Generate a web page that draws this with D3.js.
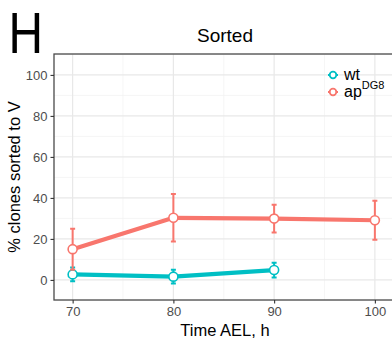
<!DOCTYPE html>
<html>
<head>
<meta charset="utf-8">
<script src="https://cdn.jsdelivr.net/npm/d3@7"></script>
<style>
  body { margin: 0; background: #fff; }
  svg { display: block; font-family: "Liberation Sans", Arial, sans-serif; }
</style>
</head>
<body>
<div id="chart"></div>
<script>
const hours = [70, 80, 90, 100];
const wtMean = [2.7, 1.6, 4.8];
const wtErr = [3.4, 3.4, 3.6];
const apMean = [15.0, 30.3, 29.9, 29.1];
const apErr = [10.0, 11.6, 6.8, 9.5];
const xTicks = [70, 80, 90, 100];
const yTicks = [0, 20, 40, 60, 80, 100];

const series = [
  { name: "wt", sup: "", color: "#00BFC4", mean: wtMean, err: wtErr },
  { name: "ap", sup: "DG8", color: "#F8766D", mean: apMean, err: apErr }
];

const width = 392, height = 340;
const margin = { top: 54, right: 0, bottom: 40, left: 54 };

const svg = d3.select("#chart").append("svg")
  .attr("width", width)
  .attr("height", height);

const x = d3.scaleLinear().domain([68.15, 101.7]).range([margin.left, width - margin.right]);
const y = d3.scaleLinear().domain([-9.8, 110.2]).range([height - margin.bottom, margin.top]);

// grid
const grid = svg.append("g");
grid.selectAll(".minx").data([75, 85, 95]).join("line")
  .attr("x1", d => x(d)).attr("x2", d => x(d))
  .attr("y1", y.range()[0]).attr("y2", y.range()[1])
  .attr("stroke", "#f2f2f2").attr("stroke-width", 0.7);
grid.selectAll(".miny").data([-10, 10, 30, 50, 70, 90, 110]).join("line")
  .attr("x1", x.range()[0]).attr("x2", x.range()[1])
  .attr("y1", d => y(d)).attr("y2", d => y(d))
  .attr("stroke", "#f2f2f2").attr("stroke-width", 0.7);
grid.selectAll(".majx").data(xTicks).join("line")
  .attr("x1", d => x(d)).attr("x2", d => x(d))
  .attr("y1", y.range()[0]).attr("y2", y.range()[1])
  .attr("stroke", "#e8e8e8").attr("stroke-width", 1.2);
grid.selectAll(".majy").data(yTicks).join("line")
  .attr("x1", x.range()[0]).attr("x2", x.range()[1])
  .attr("y1", d => y(d)).attr("y2", d => y(d))
  .attr("stroke", "#e8e8e8").attr("stroke-width", 1.2);

// panel border
svg.append("rect")
  .attr("x", x.range()[0]).attr("y", y.range()[1])
  .attr("width", x.range()[1] - x.range()[0] + 2)
  .attr("height", y.range()[0] - y.range()[1])
  .attr("fill", "none").attr("stroke", "#4a4a4a").attr("stroke-width", 1.3);

// axes
const xAxis = svg.append("g")
  .attr("transform", `translate(0,${y.range()[0]})`)
  .call(d3.axisBottom(x).tickValues(xTicks).tickSize(3.5).tickPadding(3));
const yAxis = svg.append("g")
  .attr("transform", `translate(${x.range()[0]},0)`)
  .call(d3.axisLeft(y).tickValues(yTicks).tickSize(3.5).tickPadding(3));
[xAxis, yAxis].forEach(a => {
  a.select(".domain").remove();
  a.selectAll(".tick line").attr("stroke", "#333").attr("stroke-width", 1.1);
  a.selectAll(".tick text").attr("fill", "#4d4d4d").style("font-size", "13px")
    .style("font-family", "'Liberation Sans', Arial, sans-serif");
});

// lines, error bars, points
const line = d3.line().x(d => x(d.h)).y(d => y(d.m));
series.forEach(s => {
  const pts = s.mean.map((m, i) => ({ h: hours[i], m: m, e: s.err[i] }));
  const g = svg.append("g");
  g.append("path").datum(pts)
    .attr("d", line)
    .attr("fill", "none").attr("stroke", s.color).attr("stroke-width", 4.2)
    .attr("stroke-linejoin", "round");
  g.selectAll(".eb").data(pts).join("path")
    .attr("d", d => `M${x(d.h)},${y(d.m - d.e)}V${y(d.m + d.e)}` +
      `M${x(d.h) - 2.5},${y(d.m - d.e)}H${x(d.h) + 2.5}` +
      `M${x(d.h) - 2.5},${y(d.m + d.e)}H${x(d.h) + 2.5}`)
    .attr("fill", "none").attr("stroke", s.color).attr("stroke-width", 2);
  g.selectAll("circle").data(pts).join("circle")
    .attr("cx", d => x(d.h)).attr("cy", d => y(d.m)).attr("r", 4.5)
    .attr("fill", "#fff").attr("stroke", s.color).attr("stroke-width", 1.6);
});

// legend
const legend = svg.append("g");
series.forEach((s, i) => {
  const ly = 75 + i * 17;
  legend.append("line")
    .attr("x1", 328).attr("x2", 338).attr("y1", ly).attr("y2", ly)
    .attr("stroke", s.color).attr("stroke-width", 2);
  legend.append("circle")
    .attr("cx", 333).attr("cy", ly).attr("r", 3.3)
    .attr("fill", "#fff").attr("stroke", s.color).attr("stroke-width", 1.8);
  const t = legend.append("text")
    .attr("x", 344).attr("y", ly + 5)
    .style("font-size", "16px").attr("fill", "#000");
  t.append("tspan").text(s.name);
  if (s.sup) t.append("tspan").attr("dy", -8).style("font-size", "11px").text(s.sup);
});

// titles
svg.append("text")
  .attr("transform", "translate(8.5,52.7) scale(0.84,1)")
  .style("font-size", "57px").attr("fill", "#000").text("H");
svg.append("text")
  .attr("x", 225).attr("y", 41.5).attr("text-anchor", "middle")
  .style("font-size", "19px").attr("fill", "#000").text("Sorted");
svg.append("text")
  .attr("x", 225).attr("y", 335.5).attr("text-anchor", "middle")
  .style("font-size", "16.5px").attr("fill", "#000").text("Time AEL, h");
svg.append("text")
  .attr("transform", `translate(20,${(y.range()[0] + y.range()[1]) / 2}) rotate(-90)`)
  .attr("text-anchor", "middle")
  .style("font-size", "16.5px").attr("fill", "#000").text("% clones sorted to V");
</script>
</body>
</html>
